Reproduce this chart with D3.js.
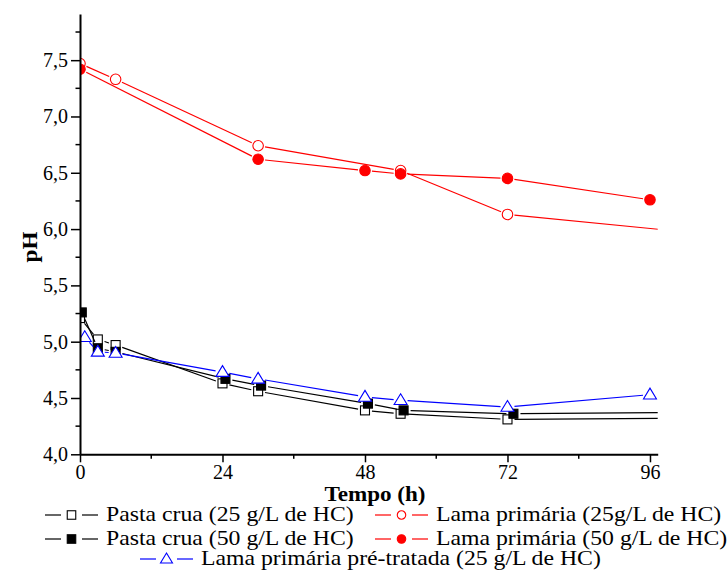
<!DOCTYPE html>
<html>
<head>
<meta charset="utf-8">
<script src="https://cdn.jsdelivr.net/npm/d3@7"></script>
</head>
<body style="margin:0;background:#fff">
<svg id="chart"></svg>
<script>
// tempo (h) and pH for each series; last point lies past the axis end and is clipped
const tPastaCrua25 = [0, 3, 6, 24, 30, 48, 54, 72, 99];
const phPastaCrua25 = [5.21, 5.02, 4.97, 4.63, 4.56, 4.39, 4.36, 4.31, 4.32];

const tPastaCrua50 = [0.3, 3, 6, 24.5, 30.5, 48.5, 54.5, 73, 99];
const phPastaCrua50 = [5.26, 4.94, 4.91, 4.67, 4.61, 4.45, 4.39, 4.36, 4.37];

const tLama25 = [0, 6, 30, 54, 72, 99];
const phLama25 = [7.47, 7.33, 6.74, 6.52, 6.13, 5.99];

const tLama50 = [0, 30, 48, 54, 72, 96];
const phLama50 = [7.42, 6.62, 6.52, 6.49, 6.45, 6.26];

const tLamaPre = [0.8, 3, 6, 24, 30, 48, 54, 72, 96];
const phLamaPre = [5.04, 4.91, 4.90, 4.73, 4.67, 4.51, 4.48, 4.42, 4.53];

const xTicks = [0, 24, 48, 72, 96];
const yTicks = [4.0, 4.5, 5.0, 5.5, 6.0, 6.5, 7.0, 7.5];

const series = [
  { name: 'Pasta crua (25 g/L de HC)', t: tPastaCrua25, v: phPastaCrua25, color: '#000', symbol: 'square', filled: false },
  { name: 'Pasta crua (50 g/L de HC)', t: tPastaCrua50, v: phPastaCrua50, color: '#000', symbol: 'square', filled: true },
  { name: 'Lama primária (25g/L de HC)', t: tLama25, v: phLama25, color: '#ff0000', symbol: 'circle', filled: false },
  { name: 'Lama primária (50 g/L de HC)', t: tLama50, v: phLama50, color: '#ff0000', symbol: 'circle', filled: true },
  { name: 'Lama primária pré-tratada (25 g/L de HC)', t: tLamaPre, v: phLamaPre, color: '#0000ff', symbol: 'triangle', filled: false }
];

const serif = '"Liberation Serif"';
const width = 727;
const height = 571;

const svg = d3.select('#chart')
  .attr('width', width)
  .attr('height', height);

const x = d3.scaleLinear().domain([0, 97.3]).range([80, 657.7]);
const y = d3.scaleLinear().domain([4, 7.91]).range([454.3, 14]);

svg.append('clipPath')
  .attr('id', 'plot-clip')
  .append('rect')
    .attr('x', x.range()[0])
    .attr('y', y.range()[1])
    .attr('width', x.range()[1] - x.range()[0])
    .attr('height', y.range()[0] - y.range()[1]);

const plot = svg.append('g').attr('clip-path', 'url(#plot-clip)');

function marker(sel, s, size) {
  if (s.symbol === 'square') {
    sel.append('rect')
      .attr('x', -size / 2).attr('y', -size / 2)
      .attr('width', size).attr('height', size);
  } else if (s.symbol === 'circle') {
    sel.append('circle').attr('r', size / 2);
  } else {
    const h = size * 0.9;
    sel.append('path')
      .attr('d', `M0,${-h * 0.6}L${size / 2 + 0.5},${h * 0.4}L${-size / 2 - 0.5},${h * 0.4}Z`);
  }
  sel.attr('fill', s.filled ? s.color : '#fff')
    .attr('stroke', s.color)
    .attr('stroke-width', 1.1);
}

const gap = 7;

series.forEach(s => {
  const pts = s.t.map((t, i) => [x(t), y(s.v[i])]);
  // line segments stop short of the markers
  for (let i = 0; i < pts.length - 1; i++) {
    const [x0, y0] = pts[i];
    const [x1, y1] = pts[i + 1];
    const len = Math.hypot(x1 - x0, y1 - y0);
    if (len < 2 * gap) continue;
    const ux = (x1 - x0) / len, uy = (y1 - y0) / len;
    plot.append('line')
      .attr('x1', x0 + ux * gap).attr('y1', y0 + uy * gap)
      .attr('x2', x1 - ux * gap).attr('y2', y1 - uy * gap)
      .attr('stroke', s.color)
      .attr('stroke-width', 1.2);
  }
  const size = s.symbol === 'triangle' ? 12 : (s.symbol === 'circle' ? 10.5 : 9);
  pts.forEach(p => {
    plot.append('g')
      .attr('transform', `translate(${p[0]},${p[1]})`)
      .call(marker, s, size);
  });
});

// axes
const xAxis = svg.append('g')
  .attr('transform', `translate(0,${y.range()[0]})`)
  .call(d3.axisBottom(x).tickValues(xTicks).tickSize(8).tickSizeOuter(0).tickPadding(3));
xAxis.append('g')
  .selectAll('line')
  .data([12, 36, 60, 84])
  .join('line')
    .attr('x1', d => x(d)).attr('x2', d => x(d))
    .attr('y1', 0).attr('y2', 4.5)
    .attr('stroke', '#000').attr('stroke-width', 1.5);

const yAxis = svg.append('g')
  .attr('transform', `translate(${x.range()[0]},0)`)
  .call(d3.axisLeft(y).tickValues(yTicks).tickSize(9).tickSizeOuter(0).tickPadding(3)
    .tickFormat(d => d3.format('.1f')(d).replace('.', ',')));
yAxis.append('g')
  .selectAll('line')
  .data([4.25, 4.75, 5.25, 5.75, 6.25, 6.75, 7.25, 7.75])
  .join('line')
    .attr('y1', d => y(d)).attr('y2', d => y(d))
    .attr('x1', 0).attr('x2', -4.5)
    .attr('stroke', '#000').attr('stroke-width', 1.5);

[xAxis, yAxis].forEach(a => {
  a.attr('font-family', 'Liberation Serif').attr('font-size', 20);
  a.select('.domain').attr('stroke-width', 2);
  a.selectAll('.tick line').attr('stroke-width', 1.5);
  a.selectAll('.tick text')
    .style('font-family', serif)
    .attr('fill', '#000');
});

svg.append('text')
  .attr('transform', 'translate(375,501) scale(1.1,1)')
  .attr('text-anchor', 'middle')
  .style('font-family', serif)
  .style('font-size', '21px').style('font-weight', 'bold')
  .text('Tempo (h)');

svg.append('text')
  .attr('transform', 'translate(37,247) rotate(-90) scale(1.1,1)')
  .attr('text-anchor', 'middle')
  .style('font-family', serif)
  .style('font-size', '21px').style('font-weight', 'bold')
  .text('pH');

// legend
const legendPos = [
  { s: 0, x: 45, y: 521 },
  { s: 2, x: 375, y: 521 },
  { s: 1, x: 45, y: 545 },
  { s: 3, x: 375, y: 545 },
  { s: 4, x: 140, y: 565 }
];

legendPos.forEach(l => {
  const s = series[l.s];
  const g = svg.append('g').attr('transform', `translate(${l.x},${l.y})`);
  const my = -6;
  g.append('line').attr('x1', 0).attr('x2', 16).attr('y1', my).attr('y2', my)
    .attr('stroke', s.color).attr('stroke-width', 1.2);
  g.append('line').attr('x1', 37).attr('x2', 53).attr('y1', my).attr('y2', my)
    .attr('stroke', s.color).attr('stroke-width', 1.2);
  g.append('g').attr('transform', `translate(26.5,${my})`)
    .call(marker, s, s.symbol === 'triangle' ? 11 : 8.5);
  g.append('text')
    .attr('transform', 'translate(61,0) scale(1.08,1)')
    .style('font-family', serif)
    .style('font-size', '22px')
    .text(s.name);
});
</script>
</body>
</html>
